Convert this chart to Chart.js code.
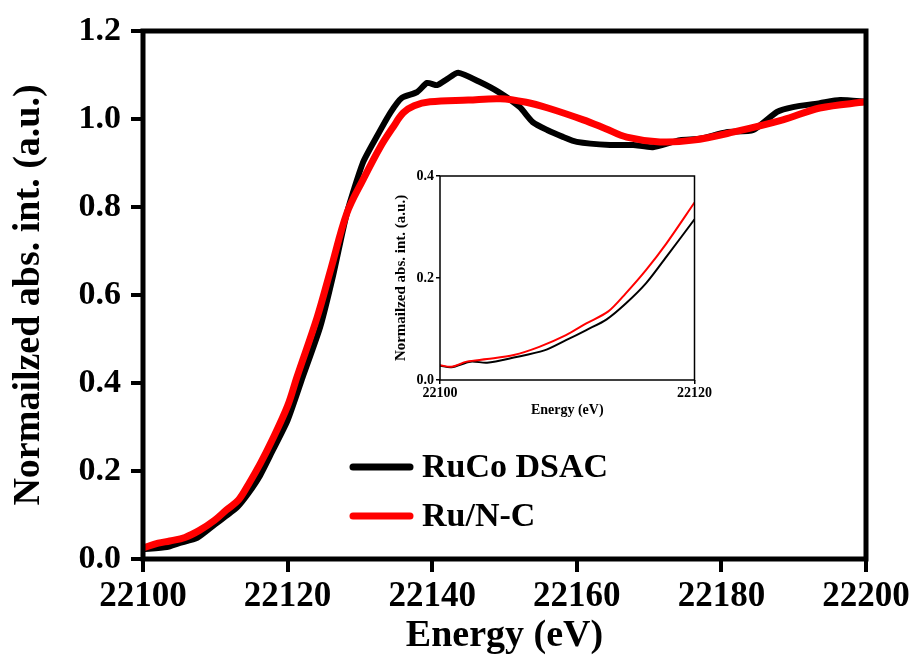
<!DOCTYPE html>
<html>
<head>
<meta charset="utf-8">
<script src="https://cdn.jsdelivr.net/npm/chart.js@4.4.1/dist/chart.umd.min.js"></script>
<style>
  html, body { margin: 0; padding: 0; background: #fff; }
  #wrap { position: relative; width: 919px; height: 659px; }
  #inset { position: absolute; left: 385px; top: 165px; width: 328px; height: 260px; }
</style>
</head>
<body>
<div id="wrap">
  <canvas id="mainChart" width="919" height="659"></canvas>
  <div id="inset"><canvas id="insetChart" width="328" height="260"></canvas></div>
</div>
<script>
// main spectra (energy in eV, normalized absorption)
const rucoEnergy = [22100, 22103.3, 22105, 22107.5, 22109.9, 22111.5, 22113.1, 22114.6, 22116.2, 22117.8, 22120,
  22122.1, 22124.5, 22126.3, 22128.2, 22130.4, 22132.3, 22134.2, 22135.8, 22137.9, 22139.3, 22140.7, 22142, 22143.6,
  22146.6, 22149.2, 22152.1, 22153.9, 22155.9, 22158, 22160, 22164.6, 22167.8, 22170.5, 22174.3, 22177,
  22180.7, 22184.4, 22187.7, 22189.9, 22193.6, 22196.4, 22200];
const rucoValues = [0.022, 0.027, 0.036, 0.048, 0.078, 0.098, 0.119, 0.15, 0.19, 0.242, 0.315,
  0.414, 0.527, 0.645, 0.786, 0.90, 0.959, 1.014, 1.048, 1.061, 1.082, 1.077, 1.09, 1.105,
  1.084, 1.061, 1.027, 0.993, 0.975, 0.96, 0.948, 0.941, 0.941, 0.936, 0.952, 0.955,
  0.970, 0.975, 1.016, 1.027, 1.036, 1.043, 1.039];

const runcEnergy = [22100, 22102.1, 22103.7, 22105.8, 22107.8, 22109.9, 22111.5, 22113.2, 22114.6, 22116.2, 22117.8,
  22120, 22121.3, 22124.1, 22126, 22128.2, 22130.4, 22132.8, 22134.6, 22136, 22137.5, 22139.7, 22145,
  22149.4, 22153, 22156, 22160.9, 22164, 22166.9, 22171.5, 22176.1, 22181.6, 22188.5, 22193.6, 22200];
const runcValues = [0.025, 0.036, 0.041, 0.049, 0.065, 0.088, 0.111, 0.134, 0.17, 0.216, 0.268,
  0.348, 0.414, 0.55, 0.66, 0.786, 0.861, 0.936, 0.982, 1.014, 1.03, 1.039, 1.043,
  1.046, 1.038, 1.025, 0.998, 0.978, 0.959, 0.948, 0.952, 0.970, 0.998, 1.025, 1.039];

// inset (pre-edge zoom)
const insetRucoEnergy = [22100, 22100.9, 22102.4, 22103.7, 22105.8, 22108.2, 22109.9, 22111.5, 22113.1, 22114.6, 22116.2, 22117.8, 22120];
const insetRucoValues = [0.028, 0.025, 0.036, 0.034, 0.044, 0.058, 0.078, 0.098, 0.119, 0.15, 0.19, 0.242, 0.315];
const insetRuncEnergy = [22100, 22100.9, 22102.1, 22103.7, 22105.8, 22107.8, 22109.9, 22111.5, 22113.2, 22114.6, 22116.2, 22117.8, 22120];
const insetRuncValues = [0.029, 0.026, 0.036, 0.041, 0.049, 0.065, 0.088, 0.111, 0.134, 0.17, 0.216, 0.268, 0.348];

const xTicks = [22100, 22120, 22140, 22160, 22180, 22200];
const yTicks = [0, 0.2, 0.4, 0.6, 0.8, 1.0, 1.2];
const seriesNames = ['RuCo DSAC', 'Ru/N-C'];

const SERIF = '"Liberation Serif", "Times New Roman", serif';

function pts(xs, ys){ return xs.map((x,i)=>({x:x, y:ys[i]})); }

// frame around plot area
function framePlugin(width){
  return {
    id: 'frame',
    afterDatasetsDraw(chart){
      const a = chart.chartArea, c = chart.ctx;
      c.save();
      c.strokeStyle = '#000';
      c.lineWidth = width;
      c.strokeRect(a.left, a.top, a.right - a.left, a.bottom - a.top);
      c.restore();
    }
  };
}

const legendPlugin = {
  id: 'innerLegend',
  afterDraw(chart){
    const c = chart.ctx;
    const sets = [chart.data.datasets[1], chart.data.datasets[0]]; // black first
    c.save();
    c.font = 'bold 34px ' + SERIF;
    c.textBaseline = 'middle';
    sets.forEach((ds, i)=>{
      const y = 467 + i*49;
      c.strokeStyle = ds.borderColor;
      c.lineWidth = 7;
      c.lineCap = 'round';
      c.beginPath(); c.moveTo(353, y); c.lineTo(410, y); c.stroke();
      c.fillStyle = '#000';
      c.fillText(ds.label, 422, y + 1);
    });
    c.restore();
  }
};

new Chart(document.getElementById('mainChart'), {
  type: 'line',
  data: {
    datasets: [
      { label: seriesNames[1], data: pts(runcEnergy, runcValues), borderColor: '#ff0000', borderWidth: 7,
        pointRadius: 0, tension: 0.35, order: 0 },
      { label: seriesNames[0], data: pts(rucoEnergy, rucoValues), borderColor: '#000000', borderWidth: 6,
        pointRadius: 0, tension: 0.2, order: 1 }
    ]
  },
  options: {
    responsive: false, animation: false, events: [],
    layout: { padding: { left: 0, top: 31, right: 53, bottom: 0 } },
    plugins: { legend: { display: false }, tooltip: { enabled: false } },
    scales: {
      x: {
        type: 'linear', min: 22100, max: 22200,
        afterBuildTicks: s => { s.ticks = xTicks.map(v=>({value:v})); },
        afterFit: s => { s.height = 100; },
        border: { display: false },
        grid: { drawOnChartArea: false, drawTicks: true, tickLength: 13, lineWidth: 4, color: '#000' },
        ticks: { color: '#000', padding: 4, font: { family: SERIF, size: 35, weight: 'bold' }, maxRotation: 0,
          callback: v => String(v) },
        title: { display: true, text: 'Energy (eV)', color: '#000', padding: { top: 0, bottom: 0 },
          font: { family: SERIF, size: 38, weight: 'bold' } }
      },
      y: {
        min: 0, max: 1.2,
        afterBuildTicks: s => { s.ticks = yTicks.map(v=>({value:v})); },
        afterFit: s => { s.width = 143; },
        border: { display: false },
        grid: { drawOnChartArea: false, drawTicks: true, tickLength: 12, lineWidth: 4, color: '#000' },
        ticks: { color: '#000', padding: 10, font: { family: SERIF, size: 34, weight: 'bold' },
          callback: v => Number(v).toFixed(1) },
        title: { display: true, text: 'Normailzed abs. int. (a.u.)', color: '#000', padding: { top: 6, bottom: 0 },
          font: { family: SERIF, size: 38, weight: 'bold' } }
      }
    }
  },
  plugins: [framePlugin(5), legendPlugin]
});

new Chart(document.getElementById('insetChart'), {
  type: 'line',
  data: {
    datasets: [
      { label: seriesNames[1], data: pts(insetRuncEnergy, insetRuncValues), borderColor: '#ff0000', borderWidth: 2,
        pointRadius: 0, tension: 0.3, order: 0 },
      { label: seriesNames[0], data: pts(insetRucoEnergy, insetRucoValues), borderColor: '#000000', borderWidth: 2,
        pointRadius: 0, tension: 0.3, order: 1 }
    ]
  },
  options: {
    responsive: false, animation: false, events: [],
    layout: { padding: { left: 0, top: 11, right: 10, bottom: 0 } },
    plugins: { legend: { display: false }, tooltip: { enabled: false } },
    scales: {
      x: {
        type: 'linear', min: 22100, max: 22120,
        afterBuildTicks: s => { s.ticks = [22100, 22120].map(v=>({value:v})); },
        afterFit: s => { s.height = 45; },
        border: { display: false },
        grid: { drawOnChartArea: false, drawTicks: true, tickLength: 4, lineWidth: 1.5, color: '#000' },
        ticks: { color: '#000', padding: 1, font: { family: SERIF, size: 14, weight: 'bold' }, maxRotation: 0,
          callback: v => String(v) },
        title: { display: true, text: 'Energy (eV)', color: '#000', padding: { top: 0, bottom: 6 },
          font: { family: SERIF, size: 14, weight: 'bold' } }
      },
      y: {
        min: 0, max: 0.4,
        afterBuildTicks: s => { s.ticks = [0, 0.2, 0.4].map(v=>({value:v})); },
        afterFit: s => { s.width = 55; },
        border: { display: false },
        grid: { drawOnChartArea: false, drawTicks: true, tickLength: 4, lineWidth: 1.5, color: '#000' },
        ticks: { color: '#000', padding: 2, font: { family: SERIF, size: 14, weight: 'bold' },
          callback: v => Number(v).toFixed(1) },
        title: { display: true, text: 'Normailzed abs. int. (a.u.)', color: '#000', padding: { top: 7, bottom: 0 },
          font: { family: SERIF, size: 15, weight: 'bold' } }
      }
    }
  },
  plugins: [framePlugin(1.5)]
});
</script>
</body>
</html>
